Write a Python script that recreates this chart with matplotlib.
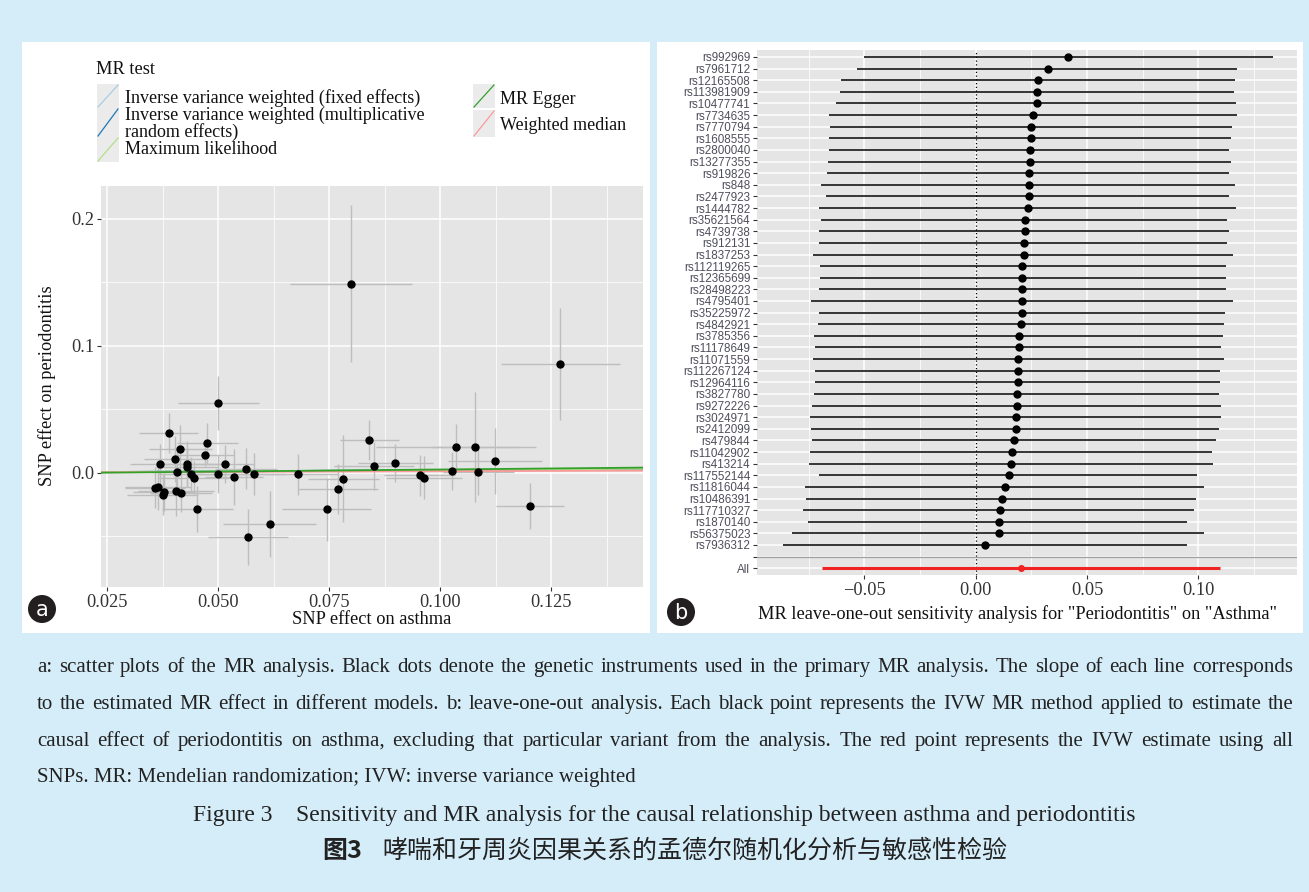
import matplotlib
matplotlib.use("Agg")
import matplotlib.pyplot as plt
import numpy as np
from matplotlib.patches import Rectangle, Circle

W, H = 1309, 892

# ---- panel a: scatter data (SNP effect on asthma vs periodontitis) ----
bx = [0.0388, 0.0500, 0.0475, 0.0414, 0.0470, 0.0403, 0.0369, 0.0429, 0.0430, 0.0514,
      0.0408, 0.0439, 0.0445, 0.0499, 0.0535, 0.0563, 0.0581, 0.0680, 0.0358, 0.0364,
      0.0378, 0.0375, 0.0405, 0.0416, 0.0453, 0.0616, 0.0566, 0.0744, 0.0769, 0.0781,
      0.0840, 0.0850, 0.0899, 0.0954, 0.0963, 0.1026, 0.1035, 0.1078, 0.1085, 0.1124,
      0.1202, 0.0799, 0.1270]
by = [0.0310, 0.0549, 0.0231, 0.0184, 0.0139, 0.0105, 0.0069, 0.0069, 0.0047, 0.0069,
      0.0008, -0.0013, -0.0040, -0.0013, -0.0031, 0.0032, -0.0013, -0.0013, -0.0118, -0.0110,
      -0.0155, -0.0176, -0.0144, -0.0162, -0.0288, -0.0406, -0.0504, -0.0288, -0.0128, -0.0047,
      0.0257, 0.0050, 0.0079, -0.0020, -0.0040, 0.0016, 0.0202, 0.0202, 0.0003, 0.0094,
      -0.0265, 0.1488, 0.0853]
se_x = [0.0066, 0.0091, 0.0069, 0.0071, 0.0066, 0.0070, 0.0067, 0.0068, 0.0070, 0.0066,
        0.0060, 0.0075, 0.0080, 0.0072, 0.0065, 0.0070, 0.0070, 0.0090, 0.0068, 0.0075,
        0.0070, 0.0080, 0.0085, 0.0070, 0.0080, 0.0105, 0.0090, 0.0100, 0.0090, 0.0080,
        0.0066, 0.0090, 0.0085, 0.0080, 0.0085, 0.0060, 0.0180, 0.0100, 0.0080, 0.0106,
        0.0076, 0.0137, 0.0134]
se_y = [0.0157, 0.0210, 0.0160, 0.0190, 0.0090, 0.0180, 0.0160, 0.0180, 0.0150, 0.0150,
        0.0160, 0.0140, 0.0130, 0.0150, 0.0220, 0.0160, 0.0165, 0.0160, 0.0160, 0.0180,
        0.0150, 0.0160, 0.0200, 0.0150, 0.0180, 0.0260, 0.0220, 0.0250, 0.0200, 0.0340,
        0.0160, 0.0190, 0.0150, 0.0160, 0.0170, 0.0150, 0.0180, 0.0430, 0.0180, 0.0260,
        0.0180, 0.0617, 0.0440]

methods = ["Inverse variance weighted (fixed effects)",
           "Inverse variance weighted (multiplicative\nrandom effects)",
           "Maximum likelihood", "MR Egger", "Weighted median"]
method_slope = [0.0205, 0.0205, 0.0210, 0.0330, 0.0110]
method_icpt = [0.0, 0.0, 0.0, -0.0008, 0.0]
method_col = ["#a6cee3", "#1f78b4", "#b2df8a", "#33a02c", "#fb9a99"]

# ---- panel b: leave-one-out ----
snps = ["rs992969", "rs7961712", "rs12165508", "rs113981909", "rs10477741", "rs7734635",
        "rs7770794", "rs1608555", "rs2800040", "rs13277355", "rs919826", "rs848",
        "rs2477923", "rs1444782", "rs35621564", "rs4739738", "rs912131", "rs1837253",
        "rs112119265", "rs12365699", "rs28498223", "rs4795401", "rs35225972", "rs4842921",
        "rs3785356", "rs11178649", "rs11071559", "rs112267124", "rs12964116", "rs3827780",
        "rs9272226", "rs3024971", "rs2412099", "rs479844", "rs11042902", "rs413214",
        "rs117552144", "rs11816044", "rs10486391", "rs117710327", "rs1870140",
        "rs56375023", "rs7936312"]
loo_b = [0.0416, 0.0323, 0.0281, 0.0277, 0.0277, 0.0257, 0.0248, 0.0248, 0.0244, 0.0244,
         0.0239, 0.0239, 0.0239, 0.0235, 0.0221, 0.0221, 0.0216, 0.0216, 0.0209, 0.0209,
         0.0209, 0.0209, 0.0209, 0.0205, 0.0196, 0.0196, 0.0191, 0.0191, 0.0191, 0.0187,
         0.0187, 0.0182, 0.0182, 0.0173, 0.0164, 0.0160, 0.0150, 0.0132, 0.0118, 0.0108,
         0.0103, 0.0103, 0.0041]
loo_lo = [-0.0503, -0.0532, -0.0606, -0.0611, -0.0626, -0.0659, -0.0654, -0.0659, -0.0659,
          -0.0663, -0.0668, -0.0695, -0.0672, -0.0705, -0.0695, -0.0705, -0.0705, -0.0729,
          -0.0701, -0.0701, -0.0705, -0.0738, -0.0705, -0.0709, -0.0725, -0.0720, -0.0729,
          -0.0720, -0.0720, -0.0725, -0.0734, -0.0743, -0.0738, -0.0734, -0.0743, -0.0747,
          -0.0705, -0.0767, -0.0762, -0.0776, -0.0752, -0.0826, -0.0864]
loo_hi = [0.1334, 0.1173, 0.1164, 0.1160, 0.1169, 0.1173, 0.1151, 0.1145, 0.1140, 0.1145,
          0.1140, 0.1164, 0.1140, 0.1169, 0.1127, 0.1136, 0.1127, 0.1154, 0.1123, 0.1123,
          0.1123, 0.1154, 0.1118, 0.1114, 0.1109, 0.1103, 0.1114, 0.1098, 0.1098, 0.1094,
          0.1103, 0.1103, 0.1094, 0.1080, 0.1061, 0.1067, 0.0995, 0.1024, 0.0991, 0.0982,
          0.0949, 0.1024, 0.0949]
all_b, all_lo, all_hi = 0.0205, -0.0690, 0.1098

caption = [
    "a: scatter plots of the MR analysis. Black dots denote the genetic instruments used in the primary MR analysis. The slope of each line corresponds",
    "to the estimated MR effect in different models. b: leave-one-out analysis. Each black point represents the IVW MR method applied to estimate the",
    "causal effect of periodontitis on asthma, excluding that particular variant from the analysis. The red point represents the IVW estimate using all",
    "SNPs. MR: Mendelian randomization; IVW: inverse variance weighted",
]

SERIF = "Liberation Serif"
SANS = "Liberation Sans"
CJK = "Noto Sans CJK SC"
PANEL = "#e5e5e5"
FS = 13.2

fig = plt.figure(figsize=(W / 100, H / 100), dpi=100, facecolor="#d5edf9")

# background overlay in pixel coordinates (panels, labels, legend, caption)
ov = fig.add_axes([0, 0, 1, 1], zorder=-1)
ov.set_xlim(0, W)
ov.set_ylim(H, 0)
ov.axis("off")
ov.add_patch(Rectangle((22, 42), 628, 591, facecolor="white", edgecolor="none"))
ov.add_patch(Rectangle((657, 42), 646, 591, facecolor="white", edgecolor="none"))


def pax(l, t, r, b):
    return fig.add_axes([l / W, 1 - b / H, (r - l) / W, (b - t) / H])


def style(ax):
    ax.set_facecolor(PANEL)
    for s in ax.spines.values():
        s.set_visible(False)
    ax.grid(True, which="major", color="white", lw=1.1, zorder=0)
    ax.grid(True, which="minor", color="white", lw=0.55, zorder=0)
    ax.set_axisbelow(True)
    ax.tick_params(which="major", length=3, width=0.8, color="#333333",
                   labelcolor="#333333", pad=2)
    ax.tick_params(which="minor", length=0)


# ---------------- panel a ----------------
ax1 = pax(101, 186, 643, 587)
style(ax1)
ax1.set_xlim(0.02358, 0.14565)
ax1.set_ylim(-0.090, 0.2257)
ax1.set_xticks([0.025, 0.050, 0.075, 0.100, 0.125])
ax1.set_xticks([0.0375, 0.0625, 0.0875, 0.1125, 0.1375], minor=True)
ax1.set_yticks([0.0, 0.1, 0.2])
ax1.set_yticks([-0.05, 0.05, 0.15], minor=True)
ax1.set_xticklabels(["0.025", "0.050", "0.075", "0.100", "0.125"], fontfamily=SERIF, fontsize=FS)
ax1.set_yticklabels(["0.0", "0.1", "0.2"], fontfamily=SERIF, fontsize=FS)

bx_a, by_a = np.array(bx), np.array(by)
ax1.hlines(by_a, bx_a - np.array(se_x), bx_a + np.array(se_x), color="#bdbdbd", lw=1.0, zorder=2)
ax1.vlines(bx_a, by_a - np.array(se_y), by_a + np.array(se_y), color="#bdbdbd", lw=1.0, zorder=2)
xs = np.array(ax1.get_xlim())
order = [0, 1, 2, 4, 3]
for i in order:
    ax1.plot(xs, method_icpt[i] + method_slope[i] * xs, color=method_col[i], lw=1.3, zorder=3)
ax1.plot(bx_a, by_a, "o", color="black", ms=5, zorder=4)

ov.text(372, 619, "SNP effect on asthma", fontfamily=SERIF, fontsize=FS,
        ha="center", va="center", color="#111111")
ov.text(47, 386, "SNP effect on periodontitis", fontfamily=SERIF, fontsize=FS,
        ha="center", va="center", rotation=90, color="#111111")

# legend (ggplot style, drawn by hand)
ov.text(96, 69, "MR test", fontfamily=SERIF, fontsize=FS, ha="left", va="center", color="#111111")
keys = [(97, 84, 108), (97, 108, 137), (97, 137, 162), (473, 84, 108), (473, 110, 137)]
text_pos = [(125, 98), (125, 124), (125, 150), (500, 100), (500, 126)]
for i, (kx, k0, k1) in enumerate(keys):
    ov.add_patch(Rectangle((kx, k0), 22, k1 - k0, facecolor="#ebebeb", edgecolor="none"))
    ov.plot([kx + 1, kx + 21], [k1 - 1, k0 + 1], color=method_col[i], lw=0.9)
    tx, ty = text_pos[i]
    ov.text(tx, ty, methods[i], fontfamily=SERIF, fontsize=13, ha="left", va="center",
            color="#111111", linespacing=0.92)

# ---------------- panel b ----------------
ax2 = pax(757.3, 50, 1296.7, 575.2)
style(ax2)
n = len(snps)
ypos = np.arange(n + 1, 1, -1)
ax2.set_xlim(-0.0981, 0.1442)
ax2.set_ylim(-0.6, n + 1.6)
ax2.set_xticks([-0.05, 0.0, 0.05, 0.10])
ax2.set_xticks([-0.075, -0.025, 0.025, 0.075, 0.125], minor=True)
ax2.set_xticklabels(["\u22120.05", "0.00", "0.05", "0.10"], fontfamily=SERIF, fontsize=FS)
ax2.set_yticks(list(ypos) + [1, 0])
ax2.set_yticklabels(snps + ["", "All"], fontfamily=SANS, fontsize=8.4, color="#4f4f5c")
ax2.axvline(0, color="black", lw=0.9, ls=(0, (1, 2)), zorder=2)
ax2.axhline(1, color="#a0a0a0", lw=0.9, zorder=2)
ax2.hlines(ypos, loo_lo, loo_hi, color="black", lw=1.1, zorder=3)
ax2.plot(loo_b, ypos, "o", color="black", ms=5, zorder=4)
ax2.hlines([0], [all_lo], [all_hi], color="#f02222", lw=2.2, zorder=3)
ax2.plot([all_b], [0], "o", color="#f02222", ms=4, zorder=4)

ov.text(1017, 614, 'MR leave-one-out sensitivity analysis for "Periodontitis" on "Asthma"',
        fontfamily=SERIF, fontsize=FS, ha="center", va="center", color="#111111")

# panel tags
for cx, cy, lab in [(42, 609, "a"), (681, 612, "b")]:
    ov.add_patch(Circle((cx, cy), 14, facecolor="#231f20", edgecolor="none"))
    ov.text(cx, cy + 1, lab, fontfamily="DejaVu Sans", fontsize=15, color="white",
            ha="center", va="center")

# ---------------- caption ----------------
r = fig.canvas.get_renderer()
x0, x1 = 37, 1293
cap_base = [672, 709, 746, 782]
for k, line in enumerate(caption):
    if k < 3:
        # justified line: place word by word
        words = line.split()
        ts = [ov.text(0, cap_base[k], w, fontfamily=SERIF, fontsize=15, ha="left",
                      va="baseline", color="#222222") for w in words]
        ws = [t.get_window_extent(r).width for t in ts]
        gap = (x1 - x0 - sum(ws)) / (len(words) - 1)
        x = x0
        for t, w in zip(ts, ws):
            t.set_x(x)
            x += w + gap
    else:
        ov.text(x0, cap_base[k], line, fontfamily=SERIF, fontsize=15, ha="left",
                va="baseline", color="#222222")

ov.text(664, 815, "Figure 3    Sensitivity and MR analysis for the causal relationship between asthma and periodontitis",
        fontfamily=SERIF, fontsize=17, ha="center", va="center", color="#222222")
ov.text(322, 851, "图3", fontfamily=[CJK, SERIF], fontsize=18, fontweight="bold",
        ha="left", va="center", color="#222222")
ov.text(382, 851, "哮喘和牙周炎因果关系的孟德尔随机化分析与敏感性检验", fontfamily=CJK,
        fontsize=18, ha="left", va="center", color="#222222")

fig.savefig("out.png", dpi=100, facecolor=fig.get_facecolor())
